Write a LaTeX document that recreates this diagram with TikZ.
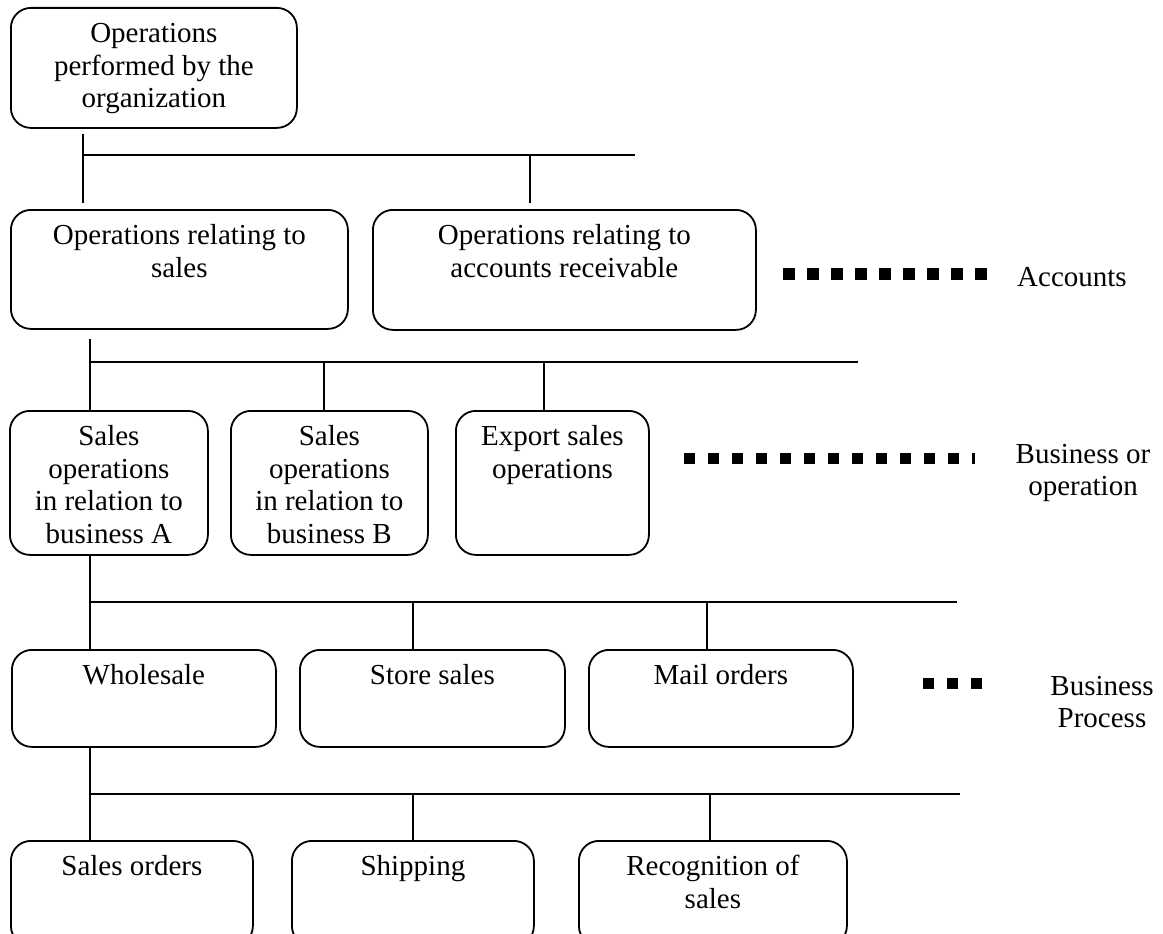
\documentclass[tikz,border=0pt]{standalone}
\usepackage{fontspec}
\setmainfont{Liberation Serif}
% box text: top-aligned, centred, first baseline 35pt below the top edge
\newcommand{\boxlines}[3]{\parbox[t][#2][t]{#1}{\centering\rule{0pt}{35pt}#3}}
% side label text: first baseline 25pt below the node top
\newcommand{\sidelines}[2]{\parbox[t]{#1}{\centering\rule{0pt}{25pt}#2}}

\begin{document}
\begin{tikzpicture}[x=1pt,y=-1pt,
  every node/.style={font=\fontsize{29}{32.5}\selectfont, inner sep=0pt},
  stage/.style={draw, line width=1.8pt, rounded corners=20pt, anchor=north west},
  link/.style={line width=1.5pt},
  squaredots/.style={line width=11pt, dash pattern=on 11pt off 13pt},
  sidelabel/.style={anchor=north}]

\useasboundingbox (0,0) rectangle (1163,934);
\clip (0,0) rectangle (1163,934);

% ---- hierarchy boxes ----
\node[stage] (org)    at (10,7)    {\boxlines{286pt}{120pt}{Operations\\performed by the\\organization}};

\node[stage] (sales)  at (10,209)  {\boxlines{337pt}{119pt}{Operations relating to\\sales}};
\node[stage] (recv)   at (372,209) {\boxlines{383pt}{120pt}{Operations relating to\\accounts receivable}};

\node[stage] (bizA)   at (9,410)   {\boxlines{198pt}{144pt}{Sales\\operations\\in relation to\\business A}};
\node[stage] (bizB)   at (230,410) {\boxlines{197pt}{144pt}{Sales\\operations\\in relation to\\business B}};
\node[stage] (export) at (455,410) {\boxlines{193pt}{144pt}{Export sales\\operations}};

\node[stage] (whole)  at (11,649)  {\boxlines{264pt}{97pt}{Wholesale}};
\node[stage] (store)  at (299,649) {\boxlines{265pt}{97pt}{Store sales}};
\node[stage] (mail)   at (588,649) {\boxlines{264pt}{97pt}{Mail orders}};

\node[stage] (orders) at (10,840)  {\boxlines{242pt}{105pt}{Sales orders}};
\node[stage] (ship)   at (291,840) {\boxlines{242pt}{105pt}{Shipping}};
\node[stage] (recog)  at (578,840) {\boxlines{268pt}{105pt}{Recognition of\\sales}};

% ---- level labels on the right ----
\node[sidelabel] (accounts) at (1072,261) {\sidelines{160pt}{Accounts}};
\node[sidelabel] (bizop)    at (1083,438) {\sidelines{160pt}{Business or\\operation}};
\node[sidelabel] (bproc)    at (1102,670) {\sidelines{140pt}{Business\\Process}};

% ---- square-dot leaders ----
\draw[squaredots, line width=12pt, dash pattern=on 11.5pt off 12.5pt] (783,274) -- (987,274);
\draw[squaredots] (684,458) -- (975,458);
\draw[squaredots] (923,683) -- (982,683);

% ---- bus lines ----
\coordinate (bus1a) at (83,155);  \coordinate (bus1b) at (635,155);
\coordinate (bus2a) at (90,362);  \coordinate (bus2b) at (858,362);
\coordinate (bus3a) at (90,602);  \coordinate (bus3b) at (957,602);
\coordinate (bus4a) at (90,794);  \coordinate (bus4b) at (960,794);

% level 1
\draw[link] ([xshift=73pt,yshift=-5pt]org.south west) -- ([xshift=73pt,yshift=6pt]sales.north west);
\draw[link] (bus1a) -- (bus1b);
\draw[link] ([xshift=158pt,yshift=6pt]recv.north west) -- ([xshift=158pt]recv.north west |- bus1a);

% level 2
\draw[link] ([xshift=80pt,yshift=-9pt]sales.south west) -- ([xshift=81pt]bizA.north west);
\draw[link] (bus2a) -- (bus2b);
\draw[link] ([xshift=94pt]bizB.north west) -- ([xshift=94pt]bizB.north west |- bus2a);
\draw[link] ([xshift=89pt]export.north west) -- ([xshift=89pt]export.north west |- bus2a);

% level 3
\draw[link] ([xshift=81pt]bizA.south west) -- ([xshift=79pt]whole.north west);
\draw[link] (bus3a) -- (bus3b);
\draw[link] ([xshift=114pt]store.north west) -- ([xshift=114pt]store.north west |- bus3a);
\draw[link] ([xshift=119pt]mail.north west) -- ([xshift=119pt]mail.north west |- bus3a);

% level 4
\draw[link] ([xshift=79pt]whole.south west) -- ([xshift=80pt]orders.north west);
\draw[link] (bus4a) -- (bus4b);
\draw[link] ([xshift=122pt]ship.north west) -- ([xshift=122pt]ship.north west |- bus4a);
\draw[link] ([xshift=132pt]recog.north west) -- ([xshift=132pt]recog.north west |- bus4a);
\end{tikzpicture}
\end{document}
